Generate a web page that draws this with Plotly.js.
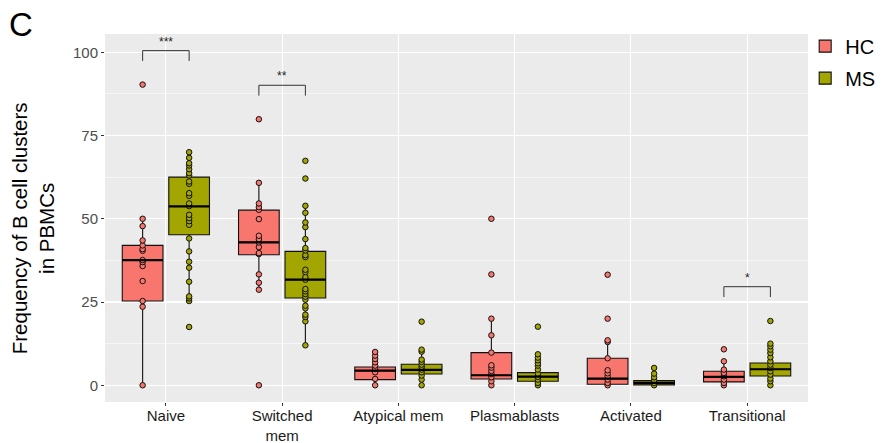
<!DOCTYPE html>
<html>
<head>
<meta charset="utf-8">
<script src="https://cdn.plot.ly/plotly-3.0.1.min.js"></script>
<style>html,body{margin:0;padding:0;background:#fff;}#chart{width:884px;height:443px;}</style>
</head>
<body>
<div id="chart"></div>
<script>
// ---- data ----
const categories = ['Naive', 'Switched mem', 'Atypical mem', 'Plasmablasts', 'Activated', 'Transitional'];
const tickLabels = ['Naive', 'Switched<br>mem', 'Atypical mem', 'Plasmablasts', 'Activated', 'Transitional'];
const groups = ['HC', 'MS'];

// sample points (HC)
const hcNaive = [90.3, 50.0, 47.8, 43.5, 42.0, 40.9, 40.4, 37.6, 37.0, 35.8, 31.3, 25.3, 23.6, 0.0];
const hcSwitched = [79.9, 60.8, 54.6, 53.5, 52.7, 49.9, 44.9, 43.9, 42.9, 41.5, 39.7, 39.4, 33.3, 30.8, 28.7, 0.0];
const hcAtypical = [10.0, 8.9, 7.9, 6.9, 5.9, 4.9, 3.9, 1.9, 0.0];
const hcPlasma = [50.0, 33.3, 20.0, 15.0, 9.8, 6.0, 5.3, 4.3, 3.4, 2.4, 1.2, 0.0];
const hcActivated = [33.2, 20.0, 13.5, 13.0, 8.1, 4.5, 3.6, 2.7, 1.7, 0.7, 0.0];
const hcTransitional = [10.8, 7.2, 4.7, 3.7, 2.7, 1.7, 0.7, 0.0];

// sample points (MS)
const msNaive = [70.0, 68.3, 66.7, 66.0, 64.9, 63.7, 63.0, 61.2, 60.5, 57.7, 56.9, 54.6, 53.8, 51.2, 50.2, 49.3, 48.2, 44.1, 40.2, 37.1, 35.3, 31.1, 26.7, 26.1, 25.3, 17.5];
const msSwitched = [67.4, 62.1, 53.9, 51.8, 48.9, 47.5, 43.9, 41.2, 40.5, 39.1, 38.5, 34.7, 34.0, 32.5, 31.7, 28.9, 28.2, 27.4, 26.6, 25.7, 23.9, 23.1, 21.2, 20.5, 19.2, 12.0];
const msAtypical = [19.1, 10.7, 10.1, 7.7, 7.0, 6.2, 5.5, 4.7, 3.9, 2.9, 1.7, 0.0];
const msPlasma = [17.6, 9.3, 8.3, 7.5, 6.6, 5.9, 4.7, 3.5, 2.5, 1.7, 0.7, 0.0];
const msActivated = [5.2, 3.5, 2.4, 1.5, 0.7, 0.0];
const msTransitional = [19.3, 12.5, 11.7, 10.7, 9.7, 8.4, 7.2, 6.2, 5.2, 4.2, 3.2, 2.0, 1.2, 0.0];

// box statistics
const hcQ1 = [25.3, 39.2, 1.7, 1.9, 0.3, 1.0];
const hcMedian = [37.6, 42.9, 4.4, 3.0, 2.0, 2.5];
const hcQ3 = [42.0, 52.6, 5.5, 9.8, 8.1, 4.2];
const hcLower = [0.0, 28.7, 0.0, 0.0, 0.0, 0.0];
const hcUpper = [50.0, 60.8, 10.0, 20.0, 13.5, 7.2];

const msQ1 = [45.2, 26.2, 3.4, 1.2, 0.1, 2.8];
const msMedian = [53.7, 31.7, 4.6, 2.6, 0.7, 4.8];
const msQ3 = [62.5, 40.2, 6.3, 3.8, 1.4, 6.7];
const msLower = [25.3, 12.0, 0.0, 0.0, 0.0, 0.0];
const msUpper = [70.0, 53.9, 10.7, 7.5, 2.4, 12.5];

// significance brackets
const sigCategories = ['Naive', 'Switched mem', 'Transitional'];
const sigLabels = ['***', '**', '*'];
const sigY = [100.5, 90.1, 29.6];
const sigDrop = [3.1, 3.1, 3.1];

// ---- styling ----
const FONT = 'Liberation Sans, Arial, Helvetica, sans-serif';
const colors = {HC: '#F8766D', MS: '#A3A500'};
const BOXGAP = 0.2, GROUPGAP = 0.125;

const hcPoints = [hcNaive, hcSwitched, hcAtypical, hcPlasma, hcActivated, hcTransitional];
const msPoints = [msNaive, msSwitched, msAtypical, msPlasma, msActivated, msTransitional];

function boxTrace(name, q1, med, q3, lo, hi) {
  return {
    type: 'box', name: name, x: categories, offsetgroup: name, legendgroup: name,
    q1: q1, median: med, q3: q3, lowerfence: lo, upperfence: hi,
    boxpoints: false, fillcolor: colors[name],
    line: {color: '#111', width: 1.1}, whiskerwidth: 0,
    hoverinfo: 'skip'
  };
}
function pointTrace(name, pts) {
  const xs = [], ys = [];
  pts.forEach((arr, i) => arr.forEach(v => { xs.push(categories[i]); ys.push(v); }));
  return {
    type: 'box', name: name, x: xs, y: ys, offsetgroup: name, legendgroup: name, showlegend: false,
    boxpoints: 'all', jitter: 0, pointpos: 0,
    fillcolor: 'rgba(0,0,0,0)', line: {color: 'rgba(0,0,0,0)', width: 0}, whiskerwidth: 0,
    marker: {color: colors[name], size: 5.5, line: {color: '#111', width: 1}},
    hoverinfo: 'y'
  };
}

const data = [
  boxTrace('HC', hcQ1, hcMedian, hcQ3, hcLower, hcUpper),
  boxTrace('MS', msQ1, msMedian, msQ3, msLower, msUpper),
  pointTrace('HC', hcPoints),
  pointTrace('MS', msPoints)
];

// median lines (thicker, as in ggplot)
const shapes = [];
const off = (1 - BOXGAP) / 4;
const halfW = (1 - BOXGAP) / 2 * (1 - GROUPGAP) / 2;
[[hcMedian, -off], [msMedian, off]].forEach(([meds, o]) => {
  meds.forEach((m, i) => {
    shapes.push({type: 'line', xref: 'x', yref: 'y', x0: i + o - halfW, x1: i + o + halfW, y0: m, y1: m,
      line: {color: '#000', width: 2.2}, layer: 'above'});
  });
});
const annotations = [];
sigCategories.forEach((c, k) => {
  const i = categories.indexOf(c);
  const y = sigY[k], yb = sigY[k] - sigDrop[k];
  const ln = {color: '#333', width: 1};
  shapes.push({type: 'line', xref: 'x', yref: 'y', x0: i - off, x1: i + off, y0: y, y1: y, line: ln});
  shapes.push({type: 'line', xref: 'x', yref: 'y', x0: i - off, x1: i - off, y0: y, y1: yb, line: ln});
  shapes.push({type: 'line', xref: 'x', yref: 'y', x0: i + off, x1: i + off, y0: y, y1: yb, line: ln});
  annotations.push({xref: 'x', yref: 'y', x: i, y: y, text: sigLabels[k], showarrow: false,
    yanchor: 'bottom', font: {family: FONT, size: 12, color: '#222'}});
});
annotations.push({xref: 'paper', yref: 'paper', x: -0.102, y: 0.473, xanchor: 'center', yanchor: 'middle',
  text: 'Frequency of B cell clusters<br>in PBMCs', textangle: -90, showarrow: false,
  font: {family: FONT, size: 20.5, color: '#000'}});
annotations.push({xref: 'paper', yref: 'paper', x: -0.1195, y: 1.0245, xanchor: 'center', yanchor: 'middle',
  text: 'C', showarrow: false, font: {family: FONT, size: 33, color: '#000'}});

const layout = {
  width: 884, height: 443,
  margin: {l: 105, r: 76, t: 34, b: 41, autoexpand: false},
  paper_bgcolor: '#fff', plot_bgcolor: '#EBEBEB',
  font: {family: FONT},
  boxmode: 'group', boxgap: BOXGAP, boxgroupgap: GROUPGAP,
  showlegend: true,
  legend: {x: 0.996, xanchor: 'left', y: 1.02, yanchor: 'top', font: {family: FONT, size: 20, color: '#000'},
    bgcolor: 'rgba(0,0,0,0)', traceorder: 'grouped', tracegroupgap: 3},
  xaxis: {
    type: 'category', categoryorder: 'array', categoryarray: categories,
    tickvals: categories, ticktext: tickLabels,
    showgrid: true, gridcolor: '#fff', gridwidth: 1.1, zeroline: false, showline: false,
    ticks: 'outside', ticklen: 3, tickcolor: '#333', tickwidth: 1, ticklabelstandoff: -3,
    tickfont: {family: FONT, size: 15, color: '#1a1a1a'}
  },
  yaxis: {
    range: [-5.03, 105.5], tickvals: [0, 25, 50, 75, 100],
    showgrid: true, gridcolor: '#fff', gridwidth: 1.1, zeroline: false, showline: false,
    ticks: 'outside', ticklen: 3, tickcolor: '#333', tickwidth: 1,
    tickfont: {family: FONT, size: 15, color: '#4d4d4d'},
    minor: {tickvals: [12.5, 37.5, 62.5, 87.5], showgrid: true, gridcolor: '#fff', gridwidth: 0.55}
  },
  shapes: shapes,
  annotations: annotations
};

Plotly.newPlot('chart', data, layout, {displayModeBar: false, staticPlot: true});
</script>
</body>
</html>
